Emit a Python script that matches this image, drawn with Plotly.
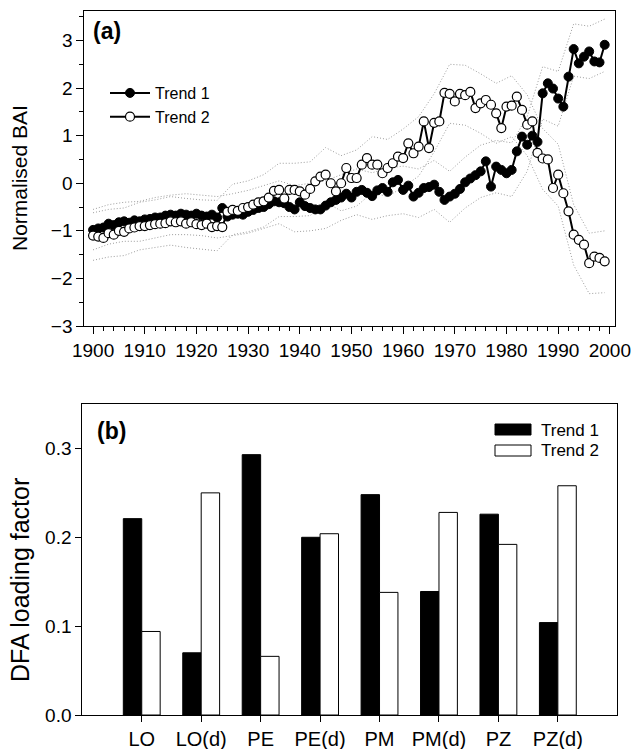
import plotly.graph_objects as go

# ---- Panel (a): DFA common trends of normalised BAI ----
YEARS = list(range(1900, 2000))

TREND1 = [
    -0.98, -0.95, -0.93, -0.85, -0.88, -0.82, -0.80, -0.83, -0.78, -0.80,
    -0.76, -0.75, -0.72, -0.72, -0.68, -0.66, -0.68, -0.64, -0.66, -0.68,
    -0.64, -0.68, -0.70, -0.66, -0.72, -0.52, -0.70, -0.66, -0.64, -0.66,
    -0.60, -0.56, -0.52, -0.50, -0.44, -0.38, -0.40, -0.42, -0.50, -0.55,
    -0.40, -0.48, -0.52, -0.55, -0.55, -0.47, -0.40, -0.35, -0.30, -0.22,
    -0.30, -0.18, -0.14, -0.20, -0.27, -0.15, -0.10, -0.18, 0.02, 0.07,
    -0.14, -0.05, -0.28, -0.20, -0.10, -0.08, -0.03, -0.18, -0.35, -0.28,
    -0.22, -0.12, 0.02, 0.10, 0.17, 0.25, 0.46, -0.07, 0.35, 0.28,
    0.21, 0.28, 0.67, 0.98, 0.81, 1.00, 0.87, 1.89, 2.10, 1.99,
    1.78, 1.61, 2.24, 2.82, 2.52, 2.66, 2.77, 2.56, 2.54, 2.91,
]

TREND2 = [
    -1.10, -1.12, -1.15, -1.05, -1.08, -1.00, -1.02, -0.95, -0.93, -0.90,
    -0.90, -0.88, -0.86, -0.85, -0.84, -0.80, -0.82, -0.80, -0.85, -0.82,
    -0.86, -0.88, -0.85, -0.92, -0.90, -0.92, -0.60, -0.56, -0.58, -0.52,
    -0.50, -0.45, -0.40, -0.38, -0.30, -0.16, -0.14, -0.32, -0.14, -0.14,
    -0.17, -0.24, -0.12, 0.04, 0.14, 0.18, 0.00, -0.17, 0.00, 0.32,
    0.11, 0.11, 0.39, 0.53, 0.39, 0.39, 0.21, 0.32, 0.42, 0.56,
    0.53, 0.84, 0.63, 0.77, 1.30, 0.74, 1.27, 1.30, 1.90, 1.88,
    1.72, 1.88, 1.85, 1.92, 1.58, 1.68, 1.75, 1.65, 1.47, 1.16,
    1.61, 1.63, 1.82, 1.54, 1.23, 1.30, 0.64, 0.52, 0.50, -0.10,
    0.18, -0.21, -0.59, -1.08, -1.19, -1.29, -1.68, -1.54, -1.57, -1.64,
]

# Confidence limits (dotted), sampled every third year
BAND_YEARS = [1900, 1903, 1906, 1909, 1912, 1915, 1918, 1921, 1924, 1927,
              1930, 1933, 1936, 1939, 1942, 1945, 1948, 1951, 1954, 1957,
              1960, 1963, 1966, 1969, 1972, 1975, 1978, 1981, 1984, 1987,
              1990, 1993, 1996, 1999]

TREND1_UPPER = [-0.55, -0.45, -0.40, -0.38, -0.30, -0.25, -0.22, -0.25, -0.28, -0.22,
                -0.15, -0.05, 0.05, -0.05, 0.00, 0.05, 0.18, 0.30, 0.22, 0.32,
                0.36, 0.30, 0.48, 0.25, 0.55, 0.80, 0.90, 0.85, 1.40, 2.45,
                2.35, 3.35, 3.30, 3.45]
TREND1_LOWER = [-1.40, -1.28, -1.22, -1.22, -1.15, -1.08, -1.08, -1.10, -1.15, -1.10,
                -1.05, -0.95, -0.85, -1.02, -1.00, -0.95, -0.78, -0.66, -0.76, -0.68,
                -0.64, -0.72, -0.55, -0.82, -0.52, -0.30, -0.20, -0.28, 0.25, 1.35,
                1.20, 2.25, 2.20, 2.35]
TREND2_UPPER = [-0.62, -0.55, -0.52, -0.40, -0.35, -0.28, -0.32, -0.35, -0.36, -0.02,
                0.05, 0.18, 0.42, 0.42, 0.45, 0.75, 0.58, 0.70, 0.98, 0.92,
                1.14, 1.40, 1.88, 2.50, 2.48, 2.30, 2.10, 2.26, 1.86, 1.15,
                0.82, -0.45, -1.05, -1.00]
TREND2_LOWER = [-1.62, -1.55, -1.52, -1.40, -1.35, -1.30, -1.35, -1.38, -1.42, -1.08,
                -1.02, -0.92, -0.70, -0.70, -0.68, -0.40, -0.58, -0.48, -0.20, -0.28,
                -0.08, 0.15, 0.66, 1.26, 1.22, 1.05, 0.84, 0.98, 0.58, -0.13,
                -0.48, -1.72, -2.32, -2.30]

# ---- Panel (b): DFA loading factors per site ----
SITES = ["LO", "LO(d)", "PE", "PE(d)", "PM", "PM(d)", "PZ", "PZ(d)"]
LOAD_TREND1 = [0.221, 0.070, 0.293, 0.200, 0.248, 0.139, 0.226, 0.104]
LOAD_TREND2 = [0.094, 0.250, 0.066, 0.204, 0.138, 0.228, 0.192, 0.258]

FONT = "Arial, Liberation Sans, Helvetica, sans-serif"
W, H = 632, 749


def px(x):
    return x / W


def py(y):
    return 1 - y / H


fig = go.Figure()

for band in (TREND1_UPPER, TREND1_LOWER, TREND2_UPPER, TREND2_LOWER):
    fig.add_trace(go.Scatter(
        x=BAND_YEARS, y=band, mode="lines",
        line=dict(color="#9c9c9c", width=1, dash="1px,2px"),
        showlegend=False, hoverinfo="skip", xaxis="x", yaxis="y"))

fig.add_trace(go.Scatter(
    x=YEARS, y=TREND1, mode="lines+markers", name="Trend 1",
    line=dict(color="black", width=2),
    marker=dict(symbol="circle", size=9, color="black",
                line=dict(color="black", width=1)),
    legendrank=1, xaxis="x", yaxis="y"))

fig.add_trace(go.Scatter(
    x=YEARS, y=TREND2, mode="lines+markers", name="Trend 2",
    line=dict(color="black", width=2),
    marker=dict(symbol="circle", size=9, color="white",
                line=dict(color="black", width=1.2)),
    legendrank=2, xaxis="x", yaxis="y"))

fig.add_trace(go.Bar(
    x=SITES, y=LOAD_TREND1, name="Trend 1", showlegend=False,
    marker=dict(color="black", line=dict(color="black", width=1)),
    xaxis="x2", yaxis="y2"))
fig.add_trace(go.Bar(
    x=SITES, y=LOAD_TREND2, name="Trend 2", showlegend=False,
    marker=dict(color="white", line=dict(color="black", width=1)),
    xaxis="x2", yaxis="y2"))

axis_common = dict(
    showline=True, mirror=True, linecolor="black", linewidth=1,
    showgrid=False, zeroline=False, ticks="outside", tickcolor="black",
    tickwidth=1, automargin=False,
)


def tfont(size):
    return dict(family=FONT, size=size, color="black")


fig.update_layout(
    width=W, height=H,
    margin=dict(l=0, r=0, t=0, b=0),
    paper_bgcolor="white", plot_bgcolor="white",
    font=dict(family=FONT, color="black"),
    barmode="group", bargap=0.38, bargroupgap=0,
    xaxis=dict(
        domain=[px(84.3), px(614.5)], anchor="y",
        range=[1898.3, 2000.9], tickmode="linear", tick0=1900, dtick=10,
        ticklen=7, tickfont=tfont(19),
        minor=dict(dtick=2, tick0=1900, ticks="outside", ticklen=4,
                   tickcolor="black", showgrid=False),
        **axis_common),
    yaxis=dict(
        domain=[py(326), py(11)], anchor="x",
        range=[-3, 3.62], tickmode="linear", tick0=0, dtick=1,
        ticklen=7, tickfont=tfont(19),
        minor=dict(dtick=0.5, tick0=0, ticks="outside", ticklen=4,
                   tickcolor="black", showgrid=False),
        **axis_common),
    xaxis2=dict(
        domain=[px(82.3), px(617.3)], anchor="y2",
        type="category", range=[-1, 8], ticklen=6, tickfont=tfont(20),
        **axis_common),
    yaxis2=dict(
        domain=[py(715), py(404)], anchor="x2",
        range=[0, 0.35], tickmode="linear", tick0=0, dtick=0.1,
        tickformat=".1f", ticklen=6, tickfont=tfont(19),
        **axis_common),
    showlegend=True,
    legend=dict(
        x=px(105), y=py(76), xanchor="left", yanchor="top",
        bgcolor="rgba(0,0,0,0)", borderwidth=0, itemwidth=40,
        font=dict(family=FONT, size=16, color="black"),
        tracegroupgap=0),
)

annotations = [
    dict(text="<b>(a)</b>", x=px(91), y=py(31), xanchor="left", yanchor="middle",
         font=dict(size=23)),
    dict(text="<b>(b)</b>", x=px(95), y=py(431), xanchor="left", yanchor="middle",
         font=dict(size=23)),
    dict(text="Normalised BAI", x=px(20), y=py(178), textangle=-90,
         xanchor="center", yanchor="middle", font=dict(size=21)),
    dict(text="DFA loading factor", x=px(20), y=py(580), textangle=-90,
         xanchor="center", yanchor="middle", font=dict(size=25)),
    dict(text="Trend 1", x=px(539), y=py(430), xanchor="left", yanchor="middle",
         font=dict(size=17)),
    dict(text="Trend 2", x=px(539), y=py(450), xanchor="left", yanchor="middle",
         font=dict(size=17)),
]
for a in annotations:
    a.update(xref="paper", yref="paper", showarrow=False)
    a["font"] = dict(family=FONT, color="black", **a["font"])
fig.update_layout(annotations=annotations)

# legend swatches for panel (b)
fig.update_layout(shapes=[
    dict(type="rect", xref="paper", yref="paper",
         x0=px(495), x1=px(531), y0=py(435), y1=py(424),
         fillcolor="black", line=dict(color="black", width=1)),
    dict(type="rect", xref="paper", yref="paper",
         x0=px(495), x1=px(531), y0=py(456), y1=py(445),
         fillcolor="white", line=dict(color="black", width=1)),
])

fig.write_html("out.html")
